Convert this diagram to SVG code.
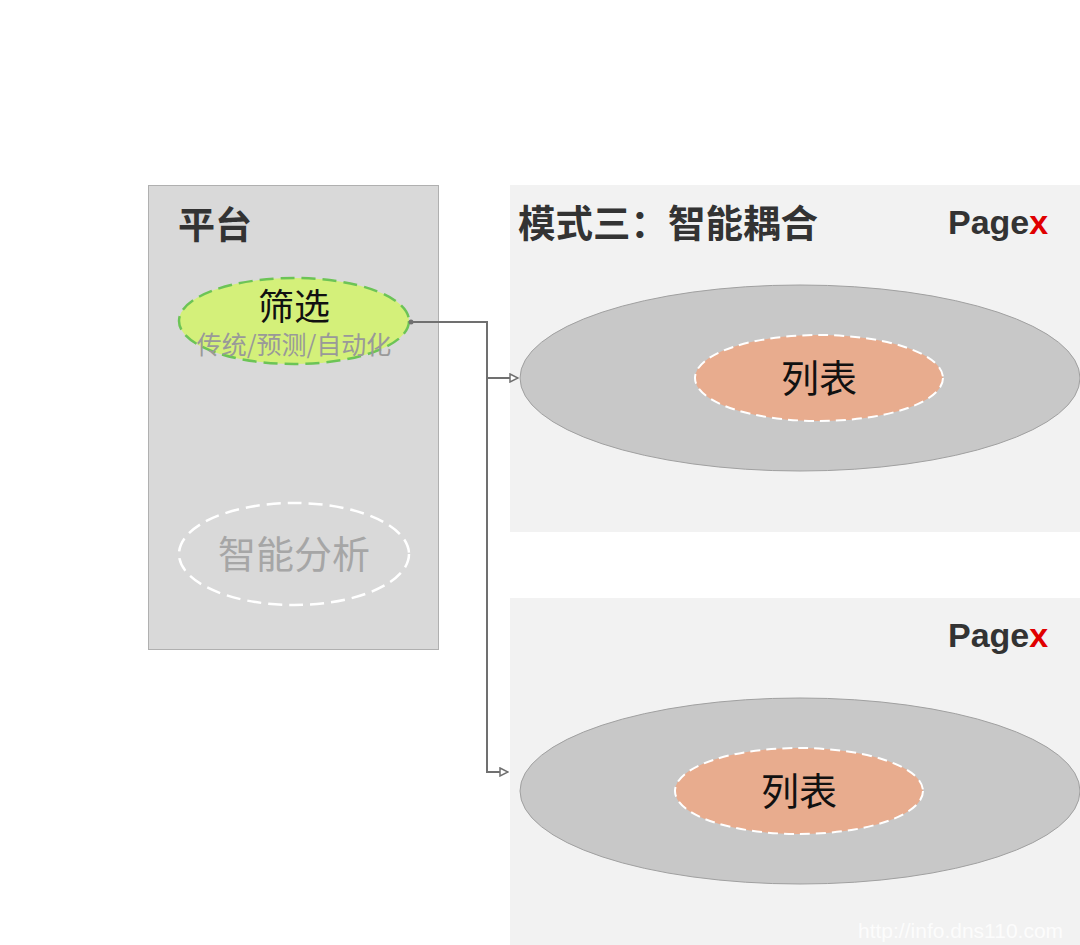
<svg xmlns="http://www.w3.org/2000/svg" width="1080" height="945" viewBox="0 0 1080 945">
<style>
.t{font-family:"Noto Sans CJK SC","Liberation Sans",sans-serif}
.b{font-family:"Liberation Sans","Noto Sans CJK SC",sans-serif;font-weight:bold;font-size:34px;fill:#333}
.big{fill:#c8c8c8;stroke:#a0a0a0;stroke-width:1}
.inner{fill:#e8ac8e;stroke:#fff;stroke-width:2;stroke-dasharray:10 6}
.c{fill:none;stroke:#707070;stroke-width:2}
</style>
<defs><marker id="a" markerWidth="10" markerHeight="10" refX="9" refY="5" orient="auto" markerUnits="userSpaceOnUse"><path d="M1,1 L9,5 L1,9 Z" fill="#fff" stroke="#707070" stroke-width="1.5"/></marker></defs>
<rect width="1080" height="945" fill="#fff"/>
<g id="platform">
<rect x="148.5" y="185.5" width="290" height="464" fill="#d9d9d9" stroke="#b0b0b0"/>
<text class="t" x="178" y="239" font-size="37" font-weight="bold" fill="#333">平台</text>
</g>
<g id="panel1">
<rect x="510" y="185" width="570" height="347" fill="#f2f2f2"/>
<text class="t" x="518" y="237" font-size="37.5" font-weight="bold" fill="#333">模式三：智能耦合</text>
<text class="b" x="948" y="234">Page<tspan fill="#e00000">x</tspan></text>
</g>
<g id="panel2">
<rect x="510" y="598" width="570" height="347" fill="#f2f2f2"/>
<text class="b" x="948" y="647">Page<tspan fill="#e00000">x</tspan></text>
</g>
<g id="filter">
<ellipse cx="294" cy="321" rx="115" ry="43" fill="#d4f07a" stroke="#6cc456" stroke-width="2.5" stroke-dasharray="14 7"/>
<text class="t" x="294" y="320" font-size="36" text-anchor="middle" fill="#111">筛选</text>
<text class="t" x="294" y="354" font-size="25" text-anchor="middle" fill="#999">传统/预测/自动化</text>
</g>
<g id="analysis">
<ellipse cx="294" cy="554" rx="115" ry="51" fill="none" stroke="#fff" stroke-width="2.5" stroke-dasharray="14 7"/>
<text class="t" x="294" y="568" font-size="38" text-anchor="middle" fill="#a6a6a6">智能分析</text>
</g>
<g id="mode1">
<ellipse class="big" cx="800" cy="378" rx="280" ry="93"/>
<ellipse class="inner" cx="819" cy="378" rx="124" ry="43"/>
<text class="t" x="819" y="392" font-size="38" text-anchor="middle" fill="#111">列表</text>
</g>
<g id="mode2">
<ellipse class="big" cx="800" cy="791" rx="280" ry="93"/>
<ellipse class="inner" cx="799" cy="791" rx="124" ry="43"/>
<text class="t" x="799" y="805" font-size="38" text-anchor="middle" fill="#111">列表</text>
</g>
<g id="connectors">
<circle cx="411" cy="322" r="2.5" fill="#707070"/>
<path class="c" d="M411,322 H487 V772 H508" marker-end="url(#a)"/>
<path class="c" d="M487,378 H518" marker-end="url(#a)"/>
</g>
<text x="858" y="938" font-family="Liberation Sans,sans-serif" font-size="21" fill="#fff" fill-opacity="0.8">http://info.dns110.com</text>
</svg>
